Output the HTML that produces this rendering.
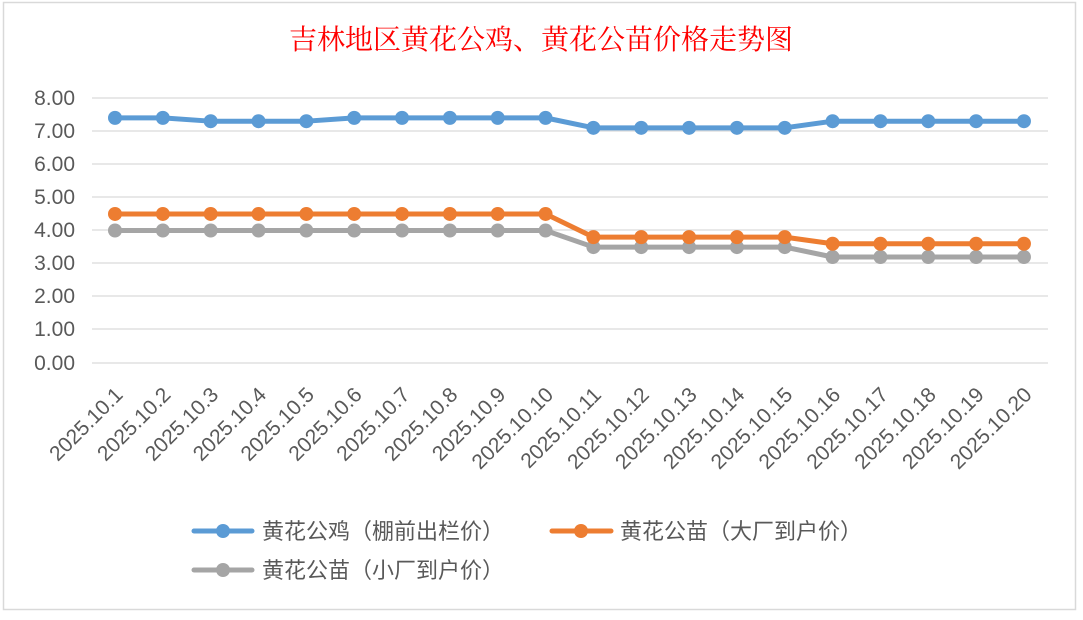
<!DOCTYPE html>
<html><head><meta charset="utf-8"><style>
body{margin:0;background:#fff;}
svg text{font-family:"Liberation Sans","Noto Sans CJK SC",sans-serif;}
</style></head><body>
<svg width="1083" height="615" xmlns="http://www.w3.org/2000/svg">
<rect x="0" y="0" width="1083" height="615" fill="#fff"/>
<rect x="3.5" y="2.5" width="1072" height="607" fill="#fff" stroke="#d9d9d9" stroke-width="1.5"/>
<text x="541" y="49" text-anchor="middle" font-size="28" fill="#ff0000" style="font-family:'Noto Serif CJK SC','Noto Sans CJK SC',serif">吉林地区黄花公鸡、黄花公苗价格走势图</text>
<g stroke="#d9d9d9" stroke-width="1.3">
<line x1="92" x2="1048" y1="98" y2="98"/><line x1="92" x2="1048" y1="131" y2="131"/>
<line x1="92" x2="1048" y1="164" y2="164"/><line x1="92" x2="1048" y1="197" y2="197"/>
<line x1="92" x2="1048" y1="230" y2="230"/><line x1="92" x2="1048" y1="263" y2="263"/>
<line x1="92" x2="1048" y1="296" y2="296"/><line x1="92" x2="1048" y1="329" y2="329"/>
<line x1="92" x2="1048" y1="363" y2="363"/>
</g>
<g font-size="21" fill="#595959" text-anchor="end">
<text x="75" y="105">8.00</text><text x="75" y="138">7.00</text><text x="75" y="171">6.00</text>
<text x="75" y="204">5.00</text><text x="75" y="237">4.00</text><text x="75" y="270">3.00</text>
<text x="75" y="303">2.00</text><text x="75" y="336">1.00</text><text x="75" y="370">0.00</text>
</g>
<g id="labels" font-size="21" fill="#595959" text-anchor="end"></g>
<g id="series"></g>
<g>
<line x1="194" x2="252" y1="531" y2="531" stroke="#5b9bd5" stroke-width="5" stroke-linecap="round"/><circle cx="223" cy="531" r="7" fill="#5b9bd5"/>
<text x="262" y="539" font-size="22" fill="#595959">黄花公鸡（棚前出栏价）</text>
<line x1="552" x2="611" y1="531" y2="531" stroke="#ed7d31" stroke-width="5" stroke-linecap="round"/><circle cx="581" cy="531" r="7" fill="#ed7d31"/>
<text x="620" y="539" font-size="22" fill="#595959">黄花公苗（大厂到户价）</text>
<line x1="194" x2="252" y1="570" y2="570" stroke="#a5a5a5" stroke-width="5" stroke-linecap="round"/><circle cx="223" cy="570" r="7" fill="#a5a5a5"/>
<text x="262" y="578" font-size="22" fill="#595959">黄花公苗（小厂到户价）</text>
</g>
<script>
var ns="http://www.w3.org/2000/svg";
function y(v){return 363-v*33.125;}
function x(i){return 115+i*47.84;}
var lab=document.getElementById("labels");
for(var i=0;i<20;i++){var t=document.createElementNS(ns,"text");var X=x(i)+9,Y=396;
t.setAttribute("x",X);t.setAttribute("y",Y);t.setAttribute("transform","rotate(-45 "+X+" "+Y+")");
t.textContent="2025.10."+(i+1);lab.appendChild(t);}
var S=[["#a5a5a5",[4,4,4,4,4,4,4,4,4,4,3.5,3.5,3.5,3.5,3.5,3.2,3.2,3.2,3.2,3.2]],
["#ed7d31",[4.5,4.5,4.5,4.5,4.5,4.5,4.5,4.5,4.5,4.5,3.8,3.8,3.8,3.8,3.8,3.6,3.6,3.6,3.6,3.6]],
["#5b9bd5",[7.4,7.4,7.3,7.3,7.3,7.4,7.4,7.4,7.4,7.4,7.1,7.1,7.1,7.1,7.1,7.3,7.3,7.3,7.3,7.3]]];
var g=document.getElementById("series");
S.forEach(function(s){var p=s[1].map(function(v,i){return x(i)+","+y(v);}).join(" ");
var pl=document.createElementNS(ns,"polyline");pl.setAttribute("points",p);pl.setAttribute("fill","none");
pl.setAttribute("stroke",s[0]);pl.setAttribute("stroke-width","5");pl.setAttribute("stroke-linejoin","round");g.appendChild(pl);
s[1].forEach(function(v,i){var c=document.createElementNS(ns,"circle");c.setAttribute("cx",x(i));c.setAttribute("cy",y(v));c.setAttribute("r","7");c.setAttribute("fill",s[0]);g.appendChild(c);});});
</script>
</svg>
</body></html>
